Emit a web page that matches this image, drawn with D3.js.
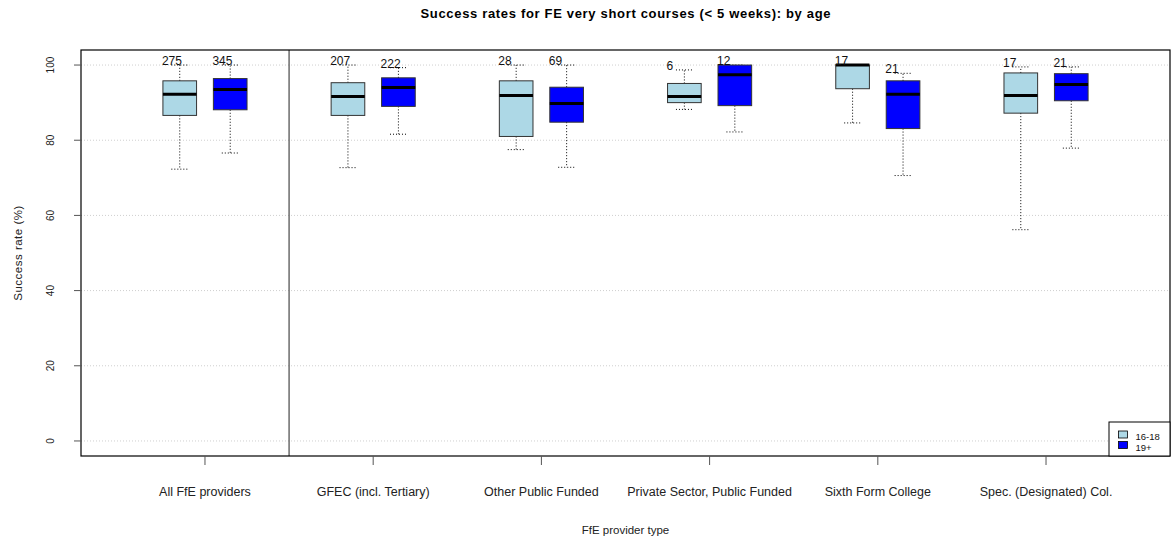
<!DOCTYPE html>
<html>
<head>
<meta charset="utf-8">
<script src="https://cdn.jsdelivr.net/npm/d3@7"></script>
<style>
  html, body { margin: 0; padding: 0; background: #fff; }
  svg { display: block; font-family: "Liberation Sans", Arial, sans-serif; }
</style>
</head>
<body>
<svg id="chart" width="1173" height="539"></svg>
<script>
// ---- data ----
const categories = ["All FfE providers", "GFEC (incl. Tertiary)", "Other Public Funded",
  "Private Sector, Public Funded", "Sixth Form College", "Spec. (Designated) Col."];
const seriesNames = ["16-18", "19+"];
const seriesColors = ["#ADD8E6", "#0000FF"];
const yTicks = [0, 20, 40, 60, 80, 100];

const counts1618 = [275, 207, 28, 6, 17, 17];
const lo1618  = [72.3, 72.7, 77.5, 88.2, 84.6, 56.2];
const q1_1618 = [86.6, 86.6, 81.0, 90.0, 93.7, 87.2];
const med1618 = [92.2, 91.6, 91.9, 91.6, 100, 91.9];
const q3_1618 = [95.8, 95.3, 95.8, 95.1, 100, 97.9];
const hi1618  = [100, 100, 100, 98.7, 100, 99.5];

const counts19 = [345, 222, 69, 12, 21, 21];
const lo19  = [76.6, 81.6, 72.8, 82.2, 70.6, 77.9];
const q1_19 = [88.1, 89.0, 84.8, 89.2, 83.1, 90.5];
const med19 = [93.5, 94.0, 89.8, 97.4, 92.2, 94.8];
const q3_19 = [96.4, 96.6, 94.1, 100, 95.8, 97.7];
const hi19  = [100, 99.3, 100, 100, 97.8, 99.5];

const title = "Success rates for FE very short courses (< 5 weeks): by age";
const xTitle = "FfE provider type";
const yTitle = "Success rate (%)";

// ---- build ----
const series = [
  {name: seriesNames[0], color: seriesColors[0], off: -0.15, n: counts1618, lo: lo1618, q1: q1_1618, med: med1618, q3: q3_1618, hi: hi1618},
  {name: seriesNames[1], color: seriesColors[1], off: 0.15, n: counts19, lo: lo19, q1: q1_19, med: med19, q3: q3_19, hi: hi19}
];
const boxes = [];
series.forEach(s => categories.forEach((c, i) => boxes.push({
  i, color: s.color, off: s.off, n: s.n[i], lo: s.lo[i], q1: s.q1[i], med: s.med[i], q3: s.q3[i], hi: s.hi[i]
})));

const L = 81, R = 1170, T = 50, B = 456;
const svg = d3.select("#chart");
const x = d3.scaleLinear().domain([-0.737, categories.length - 1 + 0.737]).range([L, R]);
const y = d3.scaleLinear().domain([-4, 104]).range([B, T]);
const halfW = 0.1, capW = 0.05;

// grid
svg.append("g").selectAll("line").data(yTicks).join("line")
  .attr("x1", L).attr("x2", R).attr("y1", d => y(d)).attr("y2", d => y(d))
  .attr("stroke", "#cfcfcf").attr("stroke-width", 1).attr("stroke-dasharray", "1,2");

// separator
svg.append("line").attr("x1", x(0.5)).attr("x2", x(0.5)).attr("y1", T).attr("y2", B)
  .attr("stroke", "#555").attr("stroke-width", 1.3);

// boxes
const g = svg.append("g");
const bx = g.selectAll("g.box").data(boxes).join("g").attr("class", "box");
bx.append("line").attr("x1", d => x(d.i + d.off)).attr("x2", d => x(d.i + d.off))
  .attr("y1", d => y(d.q3)).attr("y2", d => y(d.hi))
  .attr("stroke", "#000").attr("stroke-dasharray", "1,2");
bx.append("line").attr("x1", d => x(d.i + d.off)).attr("x2", d => x(d.i + d.off))
  .attr("y1", d => y(d.q1)).attr("y2", d => y(d.lo))
  .attr("stroke", "#000").attr("stroke-dasharray", "1,2");
bx.append("line").attr("x1", d => x(d.i + d.off - capW)).attr("x2", d => x(d.i + d.off + capW))
  .attr("y1", d => y(d.hi)).attr("y2", d => y(d.hi))
  .attr("stroke", "#000").attr("stroke-dasharray", "1,2");
bx.append("line").attr("x1", d => x(d.i + d.off - capW)).attr("x2", d => x(d.i + d.off + capW))
  .attr("y1", d => y(d.lo)).attr("y2", d => y(d.lo))
  .attr("stroke", "#000").attr("stroke-dasharray", "1,2");
bx.append("rect").attr("x", d => x(d.i + d.off - halfW)).attr("width", d => x(d.i + d.off + halfW) - x(d.i + d.off - halfW))
  .attr("y", d => y(d.q3)).attr("height", d => y(d.q1) - y(d.q3))
  .attr("fill", d => d.color).attr("stroke", "#333").attr("stroke-width", 1);
bx.append("line").attr("x1", d => x(d.i + d.off - halfW)).attr("x2", d => x(d.i + d.off + halfW))
  .attr("y1", d => y(d.med)).attr("y2", d => y(d.med))
  .attr("stroke", "#000").attr("stroke-width", 3);
bx.append("text").attr("x", d => x(d.i + d.off - halfW) - 1).attr("y", d => y(d.hi))
  .attr("font-size", 12).attr("fill", "#111").text(d => d.n);

// frame
svg.append("rect").attr("x", L).attr("y", T).attr("width", R - L).attr("height", B - T)
  .attr("fill", "none").attr("stroke", "#000").attr("stroke-width", 1.2);

// y axis
const yAxis = svg.append("g");
yAxis.selectAll("line").data(yTicks).join("line")
  .attr("x1", L - 7).attr("x2", L).attr("y1", d => y(d)).attr("y2", d => y(d))
  .attr("stroke", "#555");
yAxis.selectAll("text").data(yTicks).join("text")
  .attr("transform", d => `translate(54,${y(d)}) rotate(-90)`)
  .attr("text-anchor", "middle").attr("font-size", 10).attr("fill", "#222").text(d => d);

// x axis
const xAxis = svg.append("g");
xAxis.selectAll("line").data(categories).join("line")
  .attr("x1", (d, i) => x(i)).attr("x2", (d, i) => x(i)).attr("y1", B).attr("y2", B + 9)
  .attr("stroke", "#555");
xAxis.selectAll("text").data(categories).join("text")
  .attr("x", (d, i) => x(i)).attr("y", 496).attr("text-anchor", "middle")
  .attr("font-size", 12.5).attr("fill", "#222").text(d => d);

// titles
svg.append("text").attr("x", (L + R) / 2).attr("y", 17.5).attr("text-anchor", "middle")
  .attr("font-size", 13).attr("font-weight", "bold")
  .attr("textLength", 410).attr("lengthAdjust", "spacing").text(title);
svg.append("text").attr("x", (L + R) / 2).attr("y", 534).attr("text-anchor", "middle")
  .attr("font-size", 11.5).attr("fill", "#222").text(xTitle);
svg.append("text").attr("transform", `translate(22,${(T + B) / 2}) rotate(-90)`)
  .attr("text-anchor", "middle").attr("font-size", 11.5).attr("letter-spacing", 0.5)
  .attr("fill", "#222").text(yTitle);

// legend
const lg = svg.append("g");
lg.append("rect").attr("x", 1109).attr("y", 422).attr("width", R - 1109).attr("height", B - 422)
  .attr("fill", "#fff").attr("stroke", "#000").attr("stroke-width", 1);
series.forEach((s, k) => {
  lg.append("rect").attr("x", 1118.5).attr("y", 431 + k * 10.5).attr("width", 9).attr("height", 7)
    .attr("fill", s.color).attr("stroke", "#000").attr("stroke-width", 0.8);
  lg.append("text").attr("x", 1135.5).attr("y", 440 + k * 10.5).attr("font-size", 9.5)
    .attr("fill", "#111").text(s.name);
});
</script>
</body>
</html>
